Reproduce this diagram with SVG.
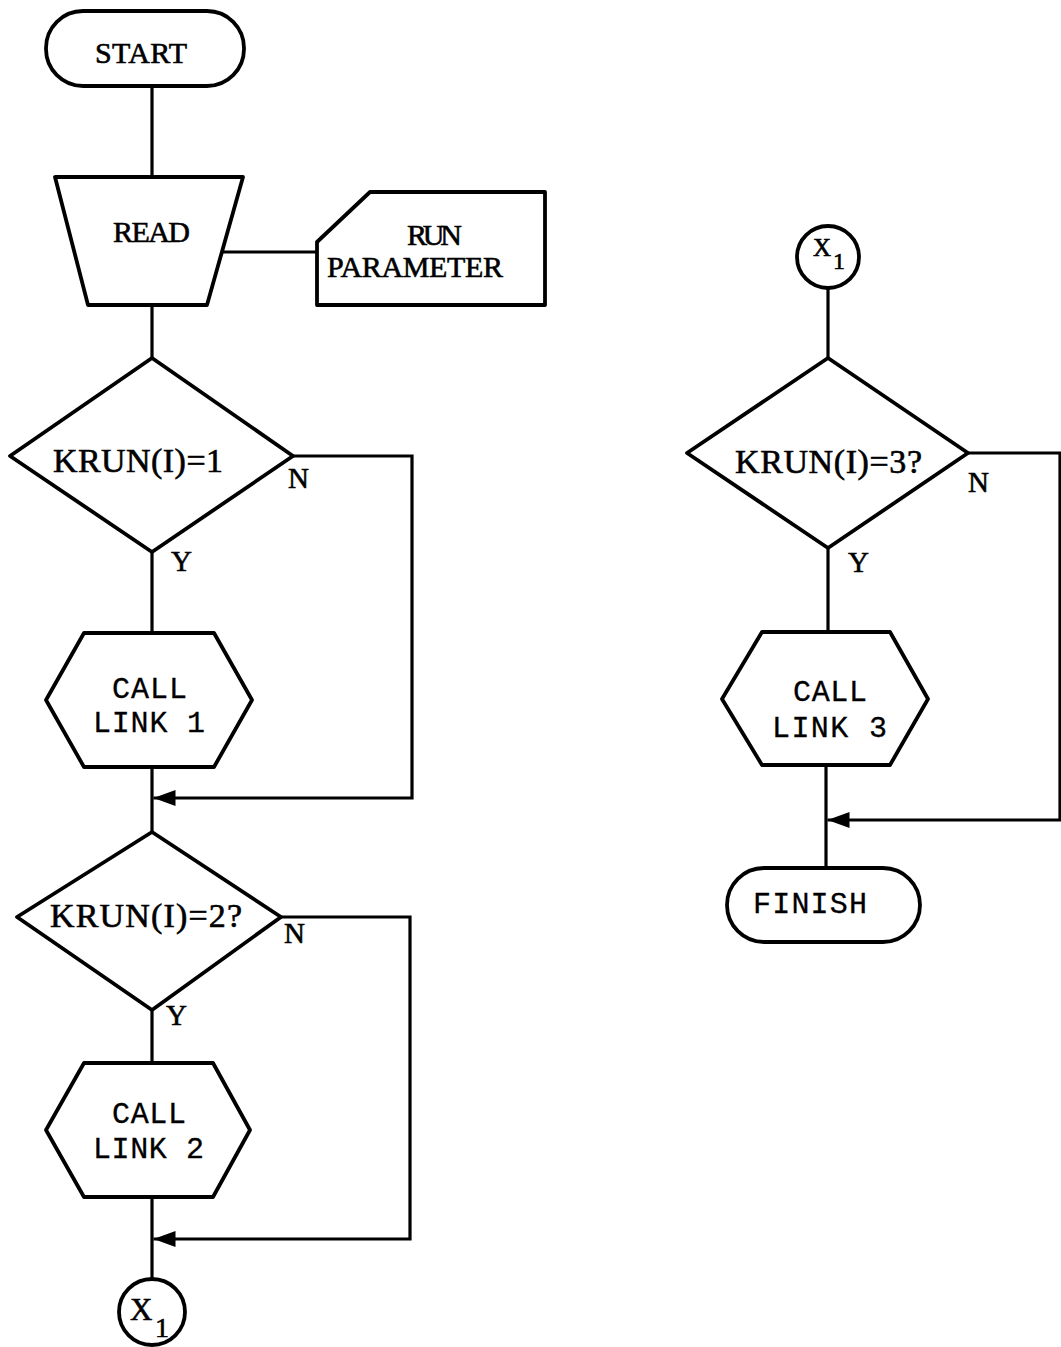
<svg xmlns="http://www.w3.org/2000/svg" width="1061" height="1347" viewBox="0 0 1061 1347">
  <style>
    .shape { fill: #fff; stroke: #000; stroke-width: 3.8; stroke-linejoin: round; }
    .line { fill: none; stroke: #000; stroke-width: 3.2; }
    .serif { font-family: "Liberation Serif", "Times New Roman", serif; fill: #000; stroke: #000; stroke-width: 0.6; }
    .mono { font-family: "Liberation Mono", "Courier New", monospace; fill: #000; font-size: 30px; stroke: #000; stroke-width: 0.3; }
    .big { font-size: 30px; }
    .cond { font-size: 34px; }
    .lbl { font-size: 29px; }
  </style>
  <defs>
    <marker id="arrow" markerUnits="userSpaceOnUse" markerWidth="24" markerHeight="18" refX="22" refY="8" orient="auto">
      <path d="M0,0 L22,8 L0,16 Z" fill="#000"/>
    </marker>
  </defs>
  <rect width="1061" height="1347" fill="#fff"/>

  <!-- connectors -->
  <g id="connectors" class="line">
    <path d="M152,86 V177"/>
    <path d="M222,252 H317"/>
    <path d="M152,305 V358"/>
    <path d="M152,552 V633"/>
    <path d="M152,767 V832"/>
    <path d="M293,456 H412 V798 H153.5" marker-end="url(#arrow)"/>
    <path d="M152,1010 V1063"/>
    <path d="M152,1197 V1279"/>
    <path d="M281,917 H410 V1239 H153.5" marker-end="url(#arrow)"/>
    <path d="M828,288 V358"/>
    <path d="M828,548 V632"/>
    <path d="M826,765 V868"/>
    <path d="M968,453 H1060 V820 H827.5" marker-end="url(#arrow)"/>
  </g>

  <!-- left column -->
  <g id="start">
    <rect class="shape" x="46" y="11" width="198" height="75" rx="37" ry="37"/>
    <text class="serif big" x="95" y="63" textLength="92">START</text>
  </g>

  <g id="read">
    <polygon class="shape" points="55,177 243,177 207,305 88,305"/>
    <text class="serif big" x="113" y="242" textLength="77">READ</text>
  </g>

  <g id="run-parameter">
    <path class="shape" d="M370,192 H545 V305 H317 V242 Z"/>
    <text class="serif big" x="407" y="245" textLength="55">RUN</text>
    <text class="serif big" x="327" y="277" textLength="176">PARAMETER</text>
  </g>

  <g id="decision-1">
    <polygon class="shape" points="152,358 293,456 152,552 10,456"/>
    <text class="serif cond" x="53" y="472" textLength="170">KRUN(I)=1</text>
    <text class="serif lbl" x="288" y="488">N</text>
    <text class="serif lbl" x="171" y="571">Y</text>
  </g>

  <g id="call-link-1">
    <polygon class="shape" points="84,633 214,633 252,700 214,767 84,767 46,700"/>
    <text class="mono" x="112" y="698" textLength="75">CALL</text>
    <text class="mono" x="93" y="732" textLength="112">LINK 1</text>
  </g>

  <g id="decision-2">
    <polygon class="shape" points="152,832 281,917 152,1010 17,917"/>
    <text class="serif cond" x="50" y="927" textLength="192">KRUN(I)=2?</text>
    <text class="serif lbl" x="284" y="943">N</text>
    <text class="serif lbl" x="166" y="1025">Y</text>
  </g>

  <g id="call-link-2">
    <polygon class="shape" points="84,1063 213,1063 250,1130 213,1197 84,1197 46,1130"/>
    <text class="mono" x="112" y="1123" textLength="74">CALL</text>
    <text class="mono" x="93" y="1158" textLength="111">LINK 2</text>
  </g>

  <g id="connector-x1-out">
    <circle class="shape" cx="152" cy="1312" r="33"/>
    <text class="serif" x="130" y="1320" font-size="31">X<tspan x="155" y="1337" font-size="28">1</tspan></text>
  </g>

  <!-- right column -->
  <g id="connector-x1-in">
    <circle class="shape" cx="828" cy="257" r="31"/>
    <text class="serif" x="813" y="256" font-size="25">X<tspan x="833" y="269" font-size="24">1</tspan></text>
  </g>

  <g id="decision-3">
    <polygon class="shape" points="828,358 968,453 828,548 687,453"/>
    <text class="serif cond" x="735" y="473" textLength="187">KRUN(I)=3?</text>
    <text class="serif lbl" x="968" y="492">N</text>
    <text class="serif lbl" x="848" y="572">Y</text>
  </g>

  <g id="call-link-3">
    <polygon class="shape" points="762,632 890,632 928,699 890,765 762,765 722,699"/>
    <text class="mono" x="793" y="701" textLength="74">CALL</text>
    <text class="mono" x="772" y="737" textLength="115">LINK 3</text>
  </g>

  <g id="finish">
    <rect class="shape" x="727" y="868" width="193" height="74" rx="37" ry="37"/>
    <text class="mono" x="753" y="913" textLength="114">FINISH</text>
  </g>
</svg>
